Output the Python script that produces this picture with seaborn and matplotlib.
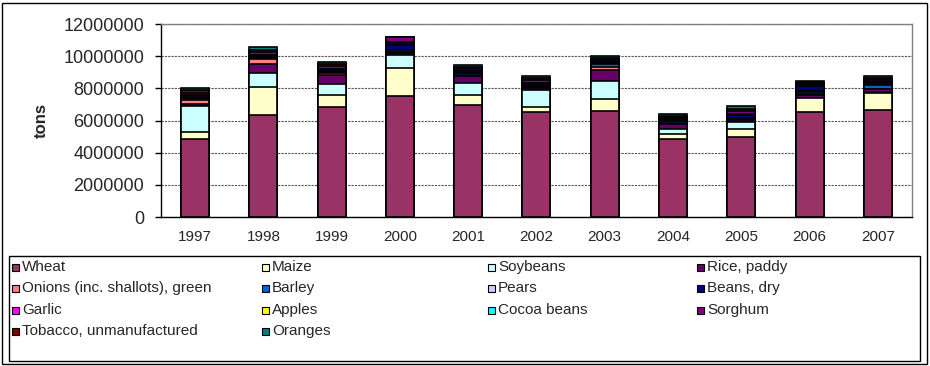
"""Stacked crop production per year (tons), Excel-like stacked columns."""
import numpy as np
import pandas as pd
import matplotlib
matplotlib.use("Agg")
import matplotlib.pyplot as plt
from matplotlib.patches import Rectangle
from matplotlib.ticker import FuncFormatter, MultipleLocator
import seaborn as sns

YEARS = ["1997", "1998", "1999", "2000", "2001", "2002", "2003", "2004", "2005", "2006", "2007"]

# production in millions of tons
WHEAT = [4.82, 6.37, 6.86, 7.50, 6.99, 6.55, 6.60, 4.86, 4.97, 6.51, 6.66]
MAIZE = [0.46, 1.69, 0.73, 1.78, 0.60, 0.30, 0.75, 0.32, 0.50, 0.87, 1.08]
SOYBEANS = [1.60, 0.89, 0.65, 0.78, 0.72, 1.05, 1.10, 0.30, 0.46, 0.04, 0.04]
RICE = [0.15, 0.58, 0.58, 0.15, 0.45, 0.15, 0.72, 0.30, 0.08, 0.15, 0.15]
ONIONS = [0.25, 0.27, 0.14, 0.03, 0.03, 0.03, 0.15, 0.03, 0.10, 0.08, 0.03]
BARLEY = [0.03, 0.03, 0.03, 0.12, 0.12, 0.03, 0.18, 0.12, 0.03, 0.15, 0.22]
PEARS = [0.03, 0.03, 0.03, 0.05, 0.03, 0.03, 0.03, 0.03, 0.03, 0.03, 0.03]
BEANS = [0.15, 0.15, 0.13, 0.30, 0.11, 0.14, 0.10, 0.09, 0.16, 0.30, 0.12]
GARLIC = [0.02, 0.02, 0.02, 0.05, 0.02, 0.02, 0.02, 0.02, 0.02, 0.10, 0.02]
APPLES = [0.03, 0.03, 0.03, 0.05, 0.03, 0.03, 0.03, 0.03, 0.03, 0.03, 0.03]
COCOA = [0.03, 0.03, 0.03, 0.05, 0.03, 0.03, 0.03, 0.03, 0.03, 0.03, 0.03]
SORGHUM = [0.15, 0.16, 0.14, 0.33, 0.11, 0.14, 0.10, 0.09, 0.16, 0.05, 0.12]
TOBACCO = [0.15, 0.16, 0.14, 0.00, 0.11, 0.14, 0.10, 0.09, 0.16, 0.05, 0.12]
ORANGES = [0.15, 0.16, 0.14, 0.00, 0.11, 0.14, 0.11, 0.10, 0.15, 0.04, 0.13]

CROPS = ["Wheat", "Maize", "Soybeans", "Rice, paddy", "Onions (inc. shallots), green",
         "Barley", "Pears", "Beans, dry", "Garlic", "Apples", "Cocoa beans", "Sorghum",
         "Tobacco, unmanufactured", "Oranges"]
SERIES = [WHEAT, MAIZE, SOYBEANS, RICE, ONIONS, BARLEY, PEARS, BEANS, GARLIC,
          APPLES, COCOA, SORGHUM, TOBACCO, ORANGES]
COLORS = ["#993366", "#FFFFCC", "#CCFFFF", "#660066", "#FF8080", "#0066CC", "#CCCCFF",
          "#000080", "#FF00FF", "#FFFF00", "#00FFFF", "#800080", "#800000", "#008080"]


def main():
    sns.set_style("white")
    plt.rcParams["font.family"] = ["Liberation Sans", "DejaVu Sans"]

    df = pd.DataFrame({c: np.array(s) * 1e6 for c, s in zip(CROPS, SERIES)}, index=YEARS)
    cum = df.cumsum(axis=1)

    fig = plt.figure(figsize=(9.3, 3.66), dpi=100)
    ax = fig.add_axes([0.1731, 0.4071, 0.8075, 0.5273])

    # draw cumulative totals from the top series down so each segment shows
    for crop, color in reversed(list(zip(CROPS, COLORS))):
        sns.barplot(x=YEARS, y=cum[crop].values, color=color, ax=ax, width=0.41,
                    edgecolor="black", linewidth=1.2, saturation=1, zorder=3)

    ax.set_xlim(-0.5, 10.5)
    ax.set_ylim(0, 12000000)
    ax.yaxis.set_major_locator(MultipleLocator(2000000))
    ax.yaxis.set_major_formatter(FuncFormatter(lambda v, _: f"{int(v)}"))
    ax.grid(axis="y", color="#555555", linestyle=(0, (2, 1)), linewidth=0.8, zorder=0)
    ax.set_axisbelow(True)

    ax.set_xticks(np.arange(-0.5, 11, 1), minor=True)
    ax.tick_params(axis="x", which="major", length=0, pad=9, labelsize=11)
    ax.tick_params(axis="x", which="minor", length=5, width=1, color="black", direction="out")
    ax.tick_params(axis="y", length=4, width=1, color="black", direction="out",
                   left=True, labelsize=13, pad=8)

    for side in ["left", "bottom"]:
        ax.spines[side].set_color("black")
        ax.spines[side].set_linewidth(1)
    for side in ["top", "right"]:
        ax.spines[side].set_color("#808080")
        ax.spines[side].set_linewidth(1)

    ax.set_xlabel("")
    ax.set_ylabel("tons", fontsize=12, fontweight="bold")
    ax.yaxis.set_label_coords(-0.15, 0.5)

    # legend box
    fig.add_artist(Rectangle((9 / 930, 5 / 366), 911 / 930, 105 / 366, transform=fig.transFigure,
                             fill=False, edgecolor="black", linewidth=1))
    # outer chart border
    fig.add_artist(Rectangle((2 / 930, 2 / 366), 925 / 930, 361 / 366, transform=fig.transFigure,
                             fill=False, edgecolor="black", linewidth=1))

    col_x = [12, 262, 488, 697]
    row_y = [267, 288, 310, 331]
    for i, (crop, color) in enumerate(zip(CROPS, COLORS)):
        x = col_x[i % 4]
        y = row_y[i // 4]
        fig.add_artist(Rectangle((x / 930, (366 - y - 4) / 366), 7 / 930, 7 / 366,
                                 transform=fig.transFigure, facecolor=color,
                                 edgecolor="black", linewidth=0.8))
        fig.text((x + 10) / 930, (366 - y) / 366, crop, fontsize=11, ha="left", va="center")

    fig.savefig("out.png", dpi=100)
    plt.close(fig)


if __name__ == "__main__":
    main()
